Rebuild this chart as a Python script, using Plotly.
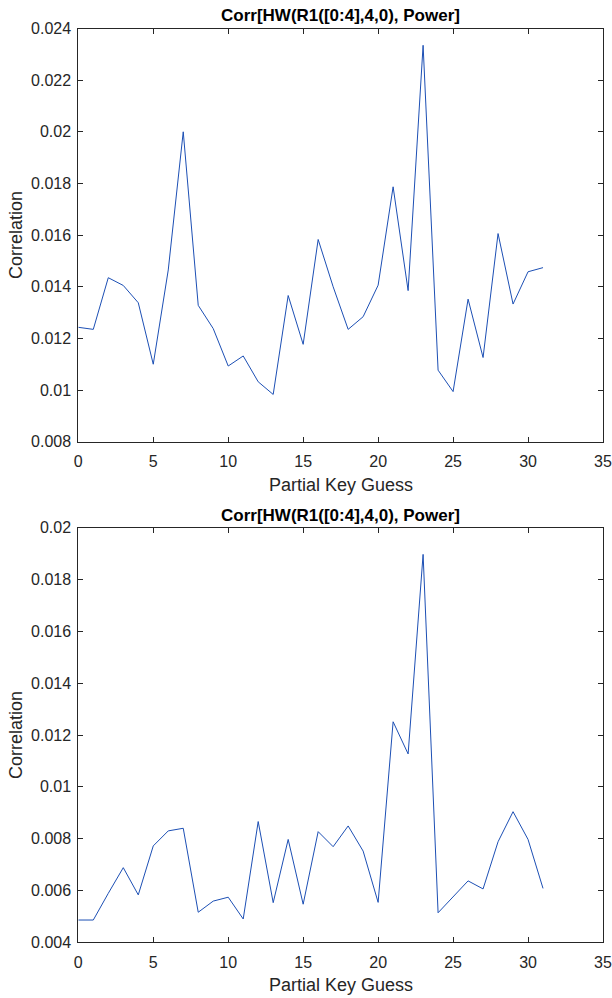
import plotly.graph_objects as go

guesses = list(range(32))

corr_top = [0.01243, 0.01235, 0.01435, 0.01405, 0.01338, 0.0110, 0.01465, 0.0200,
            0.01328, 0.01238, 0.01093, 0.01132, 0.01032, 0.00983, 0.01366, 0.01177,
            0.01583, 0.01400, 0.01235, 0.01284, 0.01406, 0.01787, 0.01385, 0.02335,
            0.01077, 0.00994, 0.01352, 0.01126, 0.01606, 0.01333, 0.01458, 0.01474]

corr_bottom = [0.00486, 0.00486, 0.00589, 0.00688, 0.00583, 0.00772, 0.00830, 0.00840,
               0.00516, 0.00559, 0.00574, 0.00490, 0.00866, 0.00553, 0.00797, 0.00547,
               0.00827, 0.00769, 0.00849, 0.00752, 0.00554, 0.01251, 0.01127, 0.01897,
               0.00514, 0.00574, 0.00637, 0.00606, 0.00788, 0.00904, 0.00797, 0.00608]

x_ticks = [0, 5, 10, 15, 20, 25, 30, 35]
y_ticks_top = [0.008, 0.01, 0.012, 0.014, 0.016, 0.018, 0.02, 0.022, 0.024]
y_ticks_top_text = ["0.008", "0.01", "0.012", "0.014", "0.016", "0.018", "0.02", "0.022", "0.024"]
y_ticks_bot = [0.004, 0.006, 0.008, 0.01, 0.012, 0.014, 0.016, 0.018, 0.02]
y_ticks_bot_text = ["0.004", "0.006", "0.008", "0.01", "0.012", "0.014", "0.016", "0.018", "0.02"]

title_text = "Corr[HW(R1([0:4],4,0), Power]"
x_label = "Partial Key Guess"
y_label = "Correlation"

W, H = 612, 998
line_color = "#1c4fb4"
axis_color = "#262626"
font_family = "Liberation Sans, Arial, sans-serif"

fig = go.Figure()
fig.add_trace(go.Scatter(x=guesses, y=corr_top, mode="lines",
                         line=dict(color=line_color, width=1), xaxis="x", yaxis="y",
                         showlegend=False))
fig.add_trace(go.Scatter(x=guesses, y=corr_bottom, mode="lines",
                         line=dict(color=line_color, width=1), xaxis="x2", yaxis="y2",
                         showlegend=False))

xdom = [78.3 / W, 603 / W]
ydom_top = [1 - 441.7 / H, 1 - 28.5 / H]
ydom_bot = [1 - 942.3 / H, 1 - 527.7 / H]

axis_common = dict(showline=True, linecolor=axis_color, linewidth=1, mirror="ticks",
                   ticks="inside", ticklen=5, tickcolor=axis_color, showgrid=False,
                   zeroline=False, automargin=False,
                   tickfont=dict(family=font_family, size=16, color=axis_color))

fig.update_layout(
    width=W, height=H,
    margin=dict(l=0, r=0, t=0, b=0),
    paper_bgcolor="white", plot_bgcolor="white",
    xaxis=dict(domain=xdom, anchor="y", range=[0, 35], tickvals=x_ticks,
               ticktext=[str(v) for v in x_ticks], ticklabelstandoff=5, **axis_common),
    yaxis=dict(domain=ydom_top, anchor="x", range=[0.008, 0.024], tickvals=y_ticks_top,
               ticktext=y_ticks_top_text, ticklabelstandoff=3, **axis_common),
    xaxis2=dict(domain=xdom, anchor="y2", range=[0, 35], tickvals=x_ticks,
                ticktext=[str(v) for v in x_ticks], ticklabelstandoff=5, **axis_common),
    yaxis2=dict(domain=ydom_bot, anchor="x2", range=[0.004, 0.02], tickvals=y_ticks_bot,
                ticktext=y_ticks_bot_text, ticklabelstandoff=3, **axis_common),
)

xc = (xdom[0] + xdom[1]) / 2
annotations = []
for ydom in (ydom_top, ydom_bot):
    # title
    annotations.append(dict(text="<b>" + title_text + "</b>", x=xc, y=ydom[1],
                            xref="paper", yref="paper", xanchor="center", yanchor="bottom",
                            yshift=1, showarrow=False,
                            font=dict(family=font_family, size=17, color="black")))
    # x label
    annotations.append(dict(text=x_label, x=xc, y=ydom[0], xref="paper", yref="paper",
                            xanchor="center", yanchor="middle", yshift=-43,
                            showarrow=False,
                            font=dict(family=font_family, size=18, color=axis_color)))
    # y label
    annotations.append(dict(text=y_label, x=0, y=(ydom[0] + ydom[1]) / 2,
                            xref="paper", yref="paper", xanchor="center", yanchor="middle",
                            xshift=16, textangle=-90, showarrow=False,
                            font=dict(family=font_family, size=18, color=axis_color)))
fig.update_layout(annotations=annotations)

fig.write_html("out.html", config={"displayModeBar": False},
               post_script="document.body.style.margin='0';document.body.style.padding='0';")
